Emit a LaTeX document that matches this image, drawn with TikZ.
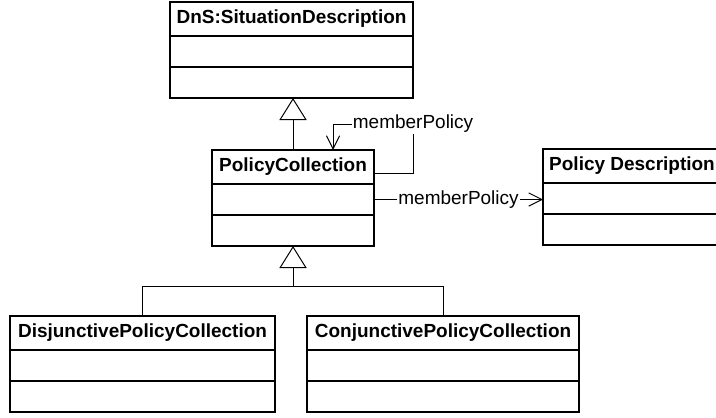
\documentclass[tikz,border=0pt]{standalone}
\usepackage{fontspec}
\setmainfont{Liberation Sans}
\usetikzlibrary{arrows.meta, positioning}

\tikzset{
  classbox/.style={draw, line width=1pt, outer sep=0pt, inner sep=0pt, anchor=north west,
    minimum height=0.85cm, font=\fontsize{13.5}{16}\selectfont\bfseries},
  classpart/.style={draw, line width=1pt, outer sep=0pt, inner sep=0pt, minimum height=0.775cm},
  gen/.style={line width=0.7pt, -{Triangle[open, length=0.55cm, width=0.68cm, line width=0.7pt]}},
  assoc/.style={line width=0.7pt, -{Straight Barb[length=0.33cm, width=0.33cm, line width=0.7pt]}},
  rolelbl/.style={fill=white, inner sep=1pt, font=\fontsize{13.5}{16}\selectfont},
}

\begin{document}
\begin{tikzpicture}[x=0.025cm, y=-0.025cm]
    \useasboundingbox (0,0) rectangle (716,417);

    % classes
    \node[classbox, minimum width=6.075cm] (sit) at (170,2) {DnS:SituationDescription};
    \node[classpart, minimum width=6.075cm, below=0pt of sit] (sit1) {};
    \node[classpart, minimum width=6.075cm, below=0pt of sit1] (sit2) {};

    \node[classbox, minimum width=4.05cm] (pc) at (212,150) {PolicyCollection};
    \node[classpart, minimum width=4.05cm, below=0pt of pc] (pc1) {};
    \node[classpart, minimum width=4.05cm, below=0pt of pc1] (pc2) {};

    \node[classbox, minimum width=4.45cm] (pd) at (543,149) {Policy Description};
    \node[classpart, minimum width=4.45cm, below=0pt of pd] (pd1) {};
    \node[classpart, minimum width=4.45cm, below=0pt of pd1] (pd2) {};

    \node[classbox, minimum width=6.625cm] (dis) at (10,316) {DisjunctivePolicyCollection};
    \node[classpart, minimum width=6.625cm, below=0pt of dis] (dis1) {};
    \node[classpart, minimum width=6.625cm, below=0pt of dis1] (dis2) {};

    \node[classbox, minimum width=6.8cm] (con) at (307,316) {ConjunctivePolicyCollection};
    \node[classpart, minimum width=6.8cm, below=0pt of con] (con1) {};
    \node[classpart, minimum width=6.8cm, below=0pt of con1] (con2) {};

    % generalisations
    \draw[gen] (pc.north) -- (pc.north |- sit2.south);
    \coordinate[below=1cm of pc2] (fork);
    \draw[line width=0.7pt] (dis.north) |- (fork) -| (con.north);
    \draw[gen] (fork) -- (pc2.south);

    % associations
    \draw[assoc] ([yshift=-0.575cm]pc.north east)
        -| ([xshift=0.975cm, yshift=0.65cm]pc.north east) node[rolelbl] {memberPolicy}
        -| ([xshift=1cm]pc.north);
    \draw[assoc] (pc1.east) -- node[rolelbl] {memberPolicy} (pc1.east -| pd1.west);
\end{tikzpicture}
\end{document}
